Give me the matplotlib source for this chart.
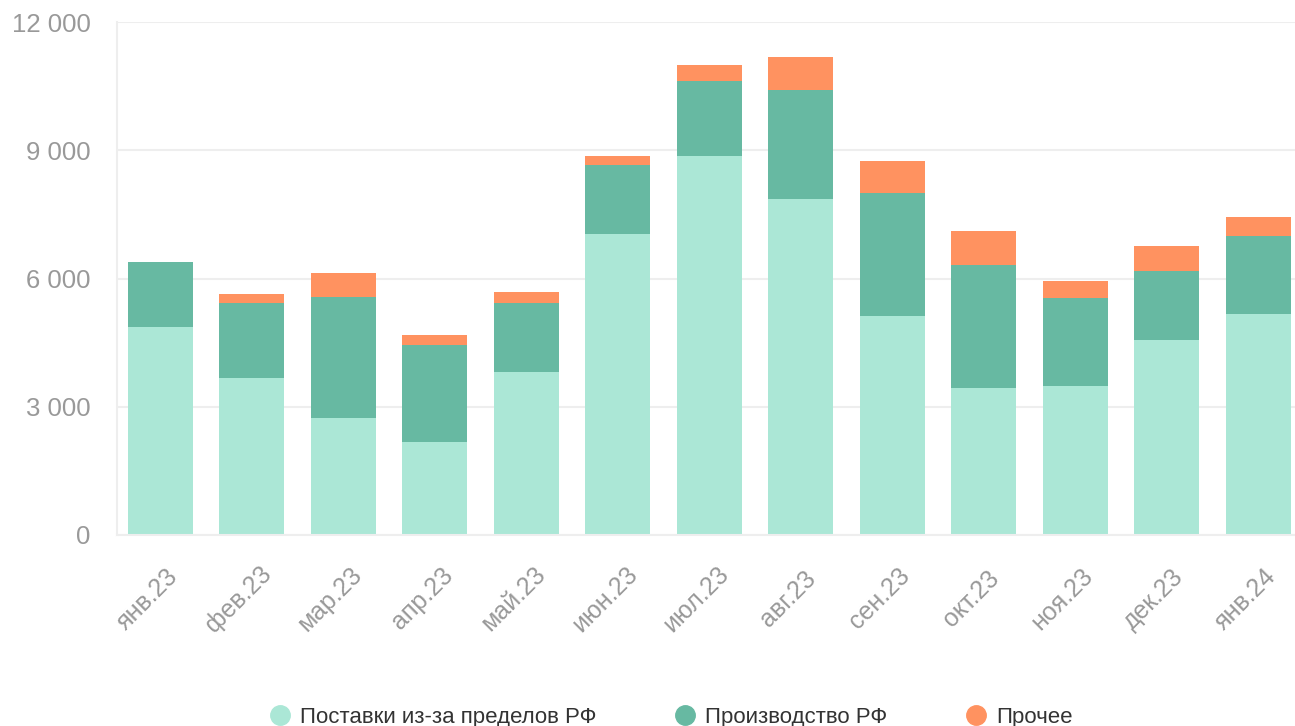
import matplotlib.pyplot as plt
import matplotlib.transforms as mtransforms
from matplotlib.lines import Line2D
import numpy as np

plt.rcParams['font.family'] = ['Liberation Sans', 'DejaVu Sans']

# Данные
months = ['янв.23', 'фев.23', 'мар.23', 'апр.23', 'май.23', 'июн.23', 'июл.23',
          'авг.23', 'сен.23', 'окт.23', 'ноя.23', 'дек.23', 'янв.24']
imports = [4865, 3673, 2737, 2175, 3813, 7041, 8865, 7860, 5123, 3439, 3485, 4561, 5170]
domestic = [1521, 1754, 2830, 2269, 1614, 1614, 1755, 2549, 2877, 2877, 2059, 1614, 1824]
other = [0, 210, 562, 234, 257, 210, 374, 772, 749, 795, 398, 585, 445]

series_names = ['Поставки из-за пределов РФ', 'Производство РФ', 'Прочее']
colors = ['#abe7d6', '#67b9a2', '#ff9260']

fig = plt.figure(figsize=(12.95, 7.26), dpi=100)
ax = fig.add_axes([117 / 1295, 1 - 535 / 726, (1295 - 117) / 1295, (535 - 22) / 726])

x = np.arange(len(months))
imports = np.array(imports)
domestic = np.array(domestic)
other = np.array(other)

ax.bar(x, imports, width=0.71, color=colors[0], zorder=2)
ax.bar(x, domestic, width=0.71, bottom=imports, color=colors[1], zorder=2)
ax.bar(x, other, width=0.71, bottom=imports + domestic, color=colors[2], zorder=2)

ax.set_xlim(-0.475, 12.4)
ax.set_ylim(0, 12000)
ax.set_yticks([0, 3000, 6000, 9000, 12000])
ax.set_yticklabels(['0', '3 000', '6 000', '9 000', '12 000'])
ax.grid(axis='y', color='#eeeeee', linewidth=1.5, zorder=0)

for s in ['top', 'right']:
    ax.spines[s].set_visible(False)
for s in ['left', 'bottom']:
    ax.spines[s].set_color('#eeeeee')
    ax.spines[s].set_linewidth(1.5)

ax.tick_params(axis='y', length=0, pad=19, labelsize=18.5, labelcolor='#999999')
ax.set_xticks(x)
ax.set_xticklabels(months, rotation=45)
ax.tick_params(axis='x', length=0, pad=46, labelsize=18, labelcolor='#999999')
shift = mtransforms.ScaledTranslation(-13 / 100, 0, fig.dpi_scale_trans)
for lbl in ax.get_xticklabels():
    lbl.set_ha('center')
    lbl.set_va('center')
    lbl.set_rotation_mode('anchor')
    lbl.set_transform(lbl.get_transform() + shift)

handles = [Line2D([0], [0], marker='o', linestyle='none', markersize=14,
                  markerfacecolor=c, markeredgecolor=c) for c in colors]
fig.legend(handles, series_names, loc='lower center', ncol=3, frameon=False,
           bbox_to_anchor=(0.518, -0.03), fontsize=16, handlelength=1.0,
           handletextpad=0.4, columnspacing=3.5, labelcolor='#333333')

fig.savefig('out.png', dpi=100)
